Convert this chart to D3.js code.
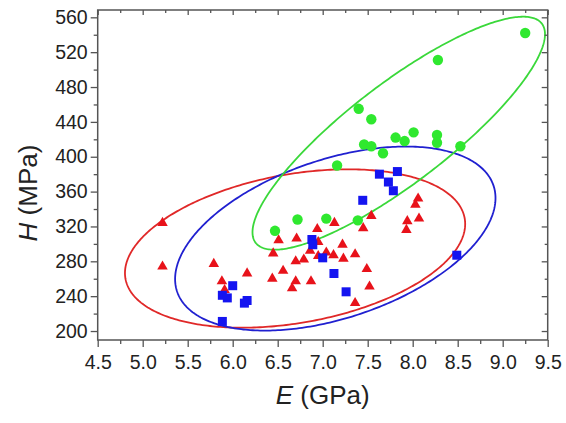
<!DOCTYPE html>
<html>
<head>
<meta charset="utf-8">
<script src="https://cdn.jsdelivr.net/npm/d3@7"></script>
<style>
  html, body { margin: 0; padding: 0; background: #fff; }
  svg { display: block; }
  text { font-family: "Liberation Sans", Arial, sans-serif; fill: #222; }
</style>
</head>
<body>
<svg id="chart" width="566" height="423"></svg>
<script>
// ---------- data ----------
// Green circles
const greenE = [9.25, 8.28, 7.40, 7.54, 7.46, 7.54, 7.67, 7.81, 7.91, 8.01, 8.27, 8.27, 8.53, 7.16, 6.72, 7.04, 7.39, 6.47];
const greenH = [542, 511, 455, 443, 414, 412, 404, 422, 418, 428, 425, 416, 412, 390, 328, 329, 327, 315];
// Blue squares
const blueE = [6.00, 5.885, 5.94, 6.16, 6.13, 5.885, 6.88, 6.89, 7.00, 7.125, 7.26, 7.445, 7.63, 7.83, 7.73, 7.785, 8.49];
const blueH = [252, 241, 238, 235, 232, 211, 305, 299, 284, 266, 245, 350, 380, 383, 371, 361, 287];
// Red triangles
const redE = [5.22, 5.22, 5.79, 5.88, 5.91, 6.16, 6.44, 6.56, 6.51, 6.45, 6.66, 6.70, 6.71, 6.70, 6.79, 6.87, 6.86, 6.94, 6.95, 7.04, 7.13, 7.12, 7.22, 7.23, 7.36, 7.36, 7.45, 7.49, 7.52, 7.54, 8.06, 8.03, 7.94, 7.93, 8.07, 6.95];
const redH = [325, 275, 278, 258, 248, 267, 261, 270, 305, 290, 250, 258, 307, 281, 283, 258, 293, 318, 287, 291, 325, 288, 300, 284, 289, 233, 319, 272, 252, 333, 353, 346, 327, 317, 330, 303];
// Confidence ellipses: red, blue, green
const ellipseCenterE = [6.693, 7.14, 7.845];
const ellipseCenterH = [294.7, 306.1, 427.0];
const ellipseHalfE  = [1.89, 1.78, 1.625];
const ellipseHalfH  = [90.9, 105.6, 133.7];
const ellipseCorr   = [0.31, 0.44, 0.85];
// Axis ticks
const xTicks = [4.5, 5.0, 5.5, 6.0, 6.5, 7.0, 7.5, 8.0, 8.5, 9.0, 9.5];
const yTicks = [200, 240, 280, 320, 360, 400, 440, 480, 520, 560];
const xMinor = [4.75, 5.25, 5.75, 6.25, 6.75, 7.25, 7.75, 8.25, 8.75, 9.25];
const yMinor = [220, 260, 300, 340, 380, 420, 460, 500, 540];

// ---------- layout ----------
const L = 97.7, R = 547.7, T = 10, B = 340;
const svg = d3.select("#chart");
const x = d3.scaleLinear().domain([4.5, 9.5]).range([L, R]);
const y = d3.scaleLinear().domain([189.7, 568.4]).range([B, T]);

const COL = { red: "#e8121a", blue: "#1414f0", green: "#2fe82f" };
const LINE = { red: "#e02828", blue: "#2020d0", green: "#3ad83a" };
const AX = "#555";

// ellipses
const ellColors = [LINE.red, LINE.blue, LINE.green];
const line = d3.line().x(d => x(d[0])).y(d => y(d[1]));
ellipseCenterE.forEach((cx, i) => {
  const kx = ellipseHalfE[i], ky = ellipseHalfH[i], r = ellipseCorr[i], cy = ellipseCenterH[i];
  const s = Math.sqrt(1 - r * r);
  const pts = d3.range(0, 361).map(a => {
    const t = a * Math.PI / 180;
    return [cx + kx * Math.cos(t), cy + ky * (r * Math.cos(t) + s * Math.sin(t))];
  });
  svg.append("path").attr("d", line(pts) + "Z")
    .attr("fill", "none").attr("stroke", ellColors[i]).attr("stroke-width", 1.8);
});

// points
const tri = d3.symbol().type(d3.symbolTriangle).size(48);
const sq = d3.symbol().type(d3.symbolSquare).size(81);
svg.append("g").selectAll("path").data(redE.map((e, i) => [e, redH[i]])).join("path")
  .attr("d", tri).attr("transform", d => `translate(${x(d[0])},${y(d[1]) + 0.8})`)
  .attr("fill", COL.red);
svg.append("g").selectAll("path").data(blueE.map((e, i) => [e, blueH[i]])).join("path")
  .attr("d", sq).attr("transform", d => `translate(${x(d[0])},${y(d[1])})`)
  .attr("fill", COL.blue);
svg.append("g").selectAll("circle").data(greenE.map((e, i) => [e, greenH[i]])).join("circle")
  .attr("cx", d => x(d[0])).attr("cy", d => y(d[1])).attr("r", 5.2)
  .attr("fill", COL.green);

// axes
function styleAxis(g) {
  g.select(".domain").remove();
  g.selectAll("line").attr("stroke", AX).attr("stroke-width", 1.3);
  g.selectAll("text").style("font-size", "19.5px").attr("fill", "#222");
}
const fmtX = d3.format(".1f");
svg.append("g").attr("transform", `translate(0,${B})`)
  .call(d3.axisBottom(x).tickValues(xTicks).tickFormat(fmtX).tickSizeInner(7).tickSizeOuter(0).tickPadding(8))
  .call(styleAxis);
svg.append("g").attr("transform", `translate(0,${B})`)
  .call(d3.axisBottom(x).tickValues(xMinor).tickFormat("").tickSizeInner(4).tickSizeOuter(0))
  .call(styleAxis);
svg.append("g").attr("transform", `translate(${L},0)`)
  .call(d3.axisLeft(y).tickValues(yTicks).tickSizeInner(7).tickSizeOuter(0).tickPadding(3))
  .call(styleAxis);
svg.append("g").attr("transform", `translate(${L},0)`)
  .call(d3.axisLeft(y).tickValues(yMinor).tickFormat("").tickSizeInner(4).tickSizeOuter(0))
  .call(styleAxis);
// mirrored inward ticks
svg.append("g").attr("transform", `translate(0,${T})`)
  .call(d3.axisTop(x).tickValues(xTicks).tickFormat("").tickSizeInner(-5).tickSizeOuter(0))
  .call(styleAxis);
svg.append("g").attr("transform", `translate(0,${T})`)
  .call(d3.axisTop(x).tickValues(xMinor).tickFormat("").tickSizeInner(-3).tickSizeOuter(0))
  .call(styleAxis);
svg.append("g").attr("transform", `translate(${R},0)`)
  .call(d3.axisRight(y).tickValues(yTicks).tickFormat("").tickSizeInner(-6).tickSizeOuter(0))
  .call(styleAxis);
svg.append("g").attr("transform", `translate(${R},0)`)
  .call(d3.axisRight(y).tickValues(yMinor).tickFormat("").tickSizeInner(-3).tickSizeOuter(0))
  .call(styleAxis);

// frame
svg.append("rect").attr("x", L).attr("y", T).attr("width", R - L).attr("height", B - T)
  .attr("fill", "none").attr("stroke", AX).attr("stroke-width", 1.5);

// axis titles
const xt = svg.append("text").attr("x", (L + R) / 2).attr("y", 404)
  .attr("text-anchor", "middle").style("font-size", "26px");
xt.append("tspan").style("font-style", "italic").text("E");
xt.append("tspan").text(" (GPa)");

const yt = svg.append("text").attr("transform", "translate(37,193) rotate(-90)")
  .attr("text-anchor", "middle").style("font-size", "26px");
yt.append("tspan").style("font-style", "italic").text("H");
yt.append("tspan").text(" (MPa)");
</script>
</body>
</html>
